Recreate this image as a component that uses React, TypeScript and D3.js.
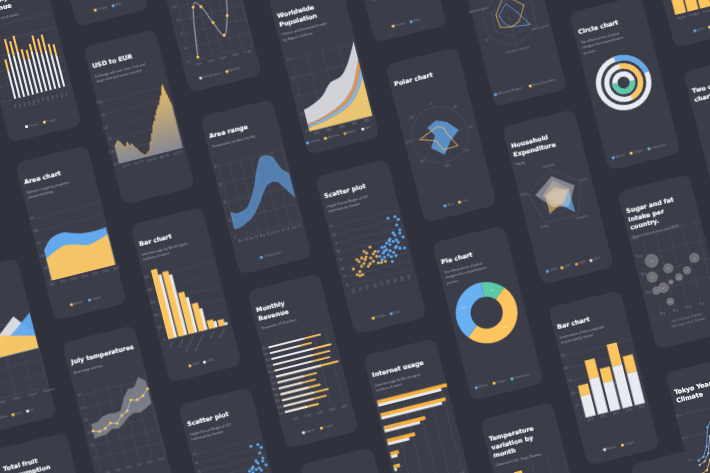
import React from "react";
import * as d3 from "d3";

const BG = "#2f313d";
const CARD = "#3a3c4a";
const GRID = "#535562";
const AXIS = "#878995";
const SUB = "#b0b2bc";
const YELLOW = "#fcc55e";
const BLUE = "#63a9ee";
const WHITE = "#e9ebf0";
const GREEN = "#5cc9a7";
const ORANGE = "#ee9a4d";
const FONT = "'Open Sans', sans-serif";

// USD to EUR
const usdValues = [
  0.77, 0.775, 0.78, 0.785, 0.79, 0.785, 0.78, 0.77, 0.765, 0.76, 0.755, 0.77, 0.775, 0.76, 0.755, 0.765, 0.76, 0.75,
  0.745, 0.74, 0.73, 0.725, 0.72, 0.715, 0.71, 0.708, 0.712, 0.71, 0.72, 0.715, 0.725, 0.74, 0.755, 0.75, 0.77, 0.785,
  0.78, 0.8, 0.815, 0.82, 0.83, 0.825, 0.85, 0.845, 0.865, 0.87, 0.875, 0.886, 0.88, 0.9, 0.905, 0.92, 0.915, 0.935,
  0.95, 0.96, 0.93, 0.91, 0.89, 0.865,
];
const usdTicks = [0.7, 0.75, 0.8, 0.85, 0.9, 0.95];
const usdLabels = ["Jul '13", "Oct '13", "Jan '14", "Apr '14", "Jul '14"];

// Monthly revenue
const months = ["Jan", "Feb", "Mar", "Apr", "May", "Jun", "Jul", "Aug", "Sep", "Oct", "Nov", "Dec"];
const revenueTotal = [2075, 2450, 2600, 2330, 2195, 2305, 3244, 2960, 3025, 3134, 2400, 2830];
const revenueActual = [1610, 1915, 2000, 1842, 1659, 1793, 2537, 2244, 2330, 2427, 1927, 2134];
const revenueTicks = [1000, 1500, 2000, 2500, 3000];
const columnActual = [95, 150, 140, 150, 120, 118, 140, 135, 125, 130, 115, 105];
const columnTarget = [40, 50, 50, 55, 35, 30, 25, 55, 50, 55, 35, 40];

// Area chart
const areaYears = ["2011", "2012", "2013", "2014", "2015", "2016", "2017"];
const areaActual = [87, 108, 120, 112, 100, 108, 122];
const areaTarget = [122, 162, 170, 158, 148, 146, 150];
const areaTicks = [0, 50, 100, 150, 200, 250];

// Area range
const rangeDays = ["Mar '14", "Apr '14", "May '14", "Jun '14", "Jul '14", "Sep '14"];
const rangeLow = [5, 5, 6.5, 8, 11, 15, 20, 24, 25, 24, 19, 14];
const rangeHigh = [14, 12.5, 13, 14.5, 19, 25, 33, 39, 39.5, 38, 30, 27];
const rangeTicks = [0, 10, 20, 30, 40];

// Worldwide population
const popYears = ["1800", "1850", "1900", "1950", "2000"];
const popAmerica = [0.5, 0.7, 1.0, 1.4, 2.0, 3.2, 5.4];
const popEurope = [0.3, 0.35, 0.4, 0.5, 0.6, 0.8, 1.2];
const popAfrica = [0.2, 0.2, 0.25, 0.3, 0.5, 0.7, 1.2];
const popAsia = [2.0, 2.2, 2.6, 3.5, 3.0, 3.0, 2.5];
const popTicks = [0, 2.5, 5, 7.5, 10];

// Polar chart
const polarAngles = ["0°", "45°", "90°", "135°", "180°", "225°", "270°", "315°"];
const polarArea = [0.5, 0.5, 0.68, 0.42, 0.72, 0.55, 0.15, 0.48];
const polarLine = [0.3, 0.28, 0.25, 0.75, 0.55, 0.25, 0.72, 0.3];

// Pie
const pieLabels = ["13%", "50%", "37%"];
const pieValues = [45, 182, 133];

// Circle chart
const circleValues = [0.24, 0.46, 0.53];
const circleStarts = [-0.02, 0, 0.25];

// Radars
const householdAxes = ["Education", "Food", "Transport", "Drinks", "Other"];
const household2014 = [0.2, 0.5, 0.85, 0.2, 0.3];
const household2015 = [0.35, 0.45, 0.3, 0.65, 0.4];
const household2016 = [0.6, 0.55, 0.35, 0.35, 0.5];
const household2017 = [0.75, 0.75, 0.55, 0.4, 0.75];
const budgetAxes = ["Sales", "Marketing", "Development", "Customer Support", "IT", "Administration"];
const budgetAllocated = [0.55, 0.35, 0.75, 0.3, 0.25, 0.4];
const budgetActual = [0.85, 0.7, 0.35, 0.3, 0.45, 0.5];

// Stacked columns
const stackYears = ["2013", "2014", "2015", "2016", "2017"];
const stackActual = [83, 140, 113, 166, 126];
const stackTotal = [126, 213, 169, 252, 193];
const stackTicks = [0, 50, 100, 150, 200, 250];

// Internet usage
const regions = ["Asia", "Europe", "Latin America", "North America", "Africa", "Oceania"];
const regions2010 = [550, 514, 328, 221, 67, 50];
const regions2005 = [500, 480, 280, 170, 50, 20];
const regionTicks = [0, 100, 200, 300, 400, 500];

// July temperatures
const julyDays = ["1 Jul", "3 Jul", "5 Jul", "7 Jul", "9 Jul", "11 Jul"];
const julyLine = [15.5, 14.7, 15.3, 16.9, 16.1, 18.6, 19.8, 23.6, 23, 24, 26.2];
const julyHigh = [18.3, 18.5, 20, 20.5, 20.2, 20.5, 25, 28, 28, 31.5, 29.5];
const julyLow = [12.5, 12.8, 13, 14.5, 14, 15.5, 17.5, 18.5, 18, 19, 20.5];
const julyTicks = [5, 10, 15, 20, 25, 30];

// Scatter plot
const femaleHeight = [155, 156.7, 158.4, 160.3, 159, 161, 164.5, 162.5, 166.7, 165.2, 170, 168.6, 169.8, 172.9, 172.9, 175.2, 172.6, 165.6, 178, 158.9, 160.2, 167.2, 165.6, 163, 171];
const femaleWeight = [56.8, 49.4, 47.5, 47.9, 52.3, 57.5, 64, 66.7, 70.9, 73.4, 76.6, 64.2, 59.8, 64.4, 56.5, 56.3, 70.4, 55.6, 56.4, 66.3, 63.5, 58, 66.6, 60, 68];
const maleHeight = [175.1, 177.9, 180.7, 183.9, 186.6, 188.1, 190, 193.1, 194, 181.8, 178, 174.8, 181, 182.7, 182.6, 178, 189, 192.5, 187, 192, 193.7, 191.8, 193, 188.8, 184.7, 176, 179, 183, 185, 187, 190, 186, 180, 184, 188];
const maleWeight = [63.5, 66.3, 69, 73.7, 76.4, 70, 67, 66, 78.6, 76.4, 72.8, 69.5, 63, 59.9, 54.3, 61.4, 77.3, 83.9, 103.6, 103.6, 99.7, 94, 87.4, 83, 80, 59, 68, 67, 64, 69, 74, 60, 73, 78, 86];
const scatterHeights = ["150", "155", "160", "165", "170", "175", "180", "185", "190"];
const scatterWeights = [40, 50, 60, 70, 80, 90, 100, 110];

// Sugar and fat
const bubbleNames = ["US", "DE", "NL", "FR", "FI", "BE", "SE", "UK", "PT", "ES"];
const bubbleFat = [42, 52.5, 39.5, 73, 65.5, 58.5, 52, 45.5, 40, 48];
const bubbleSugar = [92, 80, 75, 84, 73, 68, 65, 61, 60, 45];
const bubbleSize = [21, 15, 17, 15, 12, 11, 7, 16, 12, 11];
const bubbleXTicks = [40, 50, 60, 70, 80];
const bubbleYTicks = [60, 80, 100, 120];

// Tokyo climate
const tokyoHigh = [9, 10, 14, 22, 25, 27, 30, 31, 27, 21, 16, 11];
const tokyoMean = [7, 8, 11, 18, 21, 24, 27, 28, 25, 19, 14, 9];
const tokyoLow = [3, 4, 8, 13, 17, 21, 25, 26, 23, 17, 11, 6];
const tokyoTicks = [10, 20, 30];

// Temperature variation
const variationLow = [-2, -1, 1, 4, 8, 11, 13, 12, 9, 5, 1, -1];
const variationHigh = [3, 5, 9, 14, 18, 21, 22, 21, 16, 10, 6, 3];

// Temperature line
const lineHours = ["0 pm", "3 pm", "6 pm", "9 pm", "12 pm"];
const lineTemp = [34, 104, 102, 76, 55, 81, 138];
const lineTicks = [30, 50, 70, 90, 110, 130, 150];

// Fruit mountains
const fruits = ["Apples", "Oranges", "Pears", "Grapes", "Bananas"];
const fruitBase = [5.65, 5.65, 5.65, 5.65, 5.65];
const fruitJoe = [6, 7.4, 8.9, 10.8, 7.8];
const fruitJohn = [5.65, 6, 7.4, 9, 10.8];
const fruitJane = [7, 6.5, 8.6, 8, 7.4];

// Top right bars
const topBars = [9.4, 9.8, 9.5, 8.8, 7.5];

type CardProps = {
  x: number;
  y: number;
  title: string[];
  sub?: string[];
  legend?: [string, string][];
  children?: React.ReactNode;
};

function Card({ x, y, title, sub = [], legend = [], children }: CardProps) {
  const subStart = 76 + (title.length - 1) * 27 + 30;
  const widths = legend.map(([t]) => 14 + t.length * 5.6 + 12);
  const total = d3.sum(widths);
  let cursor = 120 - total / 2;
  return (
    <g transform={`matrix(0.3,-0.075,0.0755,0.298,${x},${y})`}>
      <rect width={240} height={530} rx={26} fill={CARD} />
      {title.map((t, i) => (
        <text key={t} x={14} y={76 + i * 27} fontFamily="'DejaVu Sans'" fontWeight="bold" fontSize={20.5} fill="#fff" stroke="#fff" strokeWidth={0.6}>
          {t}
        </text>
      ))}
      {sub.map((t, i) => (
        <text key={t} x={14} y={subStart + i * 19} fontFamily={FONT} fontSize={10.5} fill={SUB}>
          {t}
        </text>
      ))}
      {children}
      {legend.map(([t, c], i) => {
        const left = cursor;
        cursor += widths[i];
        return (
          <g key={t} transform={`translate(${left},495)`}>
            <rect x={0} y={-8} width={9} height={9} rx={2} fill={c} />
            <text x={13} y={0} fontFamily={FONT} fontSize={10} fill={AXIS}>
              {t}
            </text>
          </g>
        );
      })}
    </g>
  );
}

function HGrid({ y, ticks, x0 = 22, x1 = 234, fmt = (d: number) => String(d) }: { y: (v: number) => number; ticks: number[]; x0?: number; x1?: number; fmt?: (d: number) => string }) {
  return (
    <g>
      {ticks.map((t) => (
        <g key={t}>
          <line x1={x0} x2={x1} y1={y(t)} y2={y(t)} stroke={GRID} strokeWidth={1.6} />
          <text x={x0 - 4} y={y(t) + 3} textAnchor="end" fontFamily={FONT} fontSize={9} fill={AXIS}>
            {fmt(t)}
          </text>
        </g>
      ))}
    </g>
  );
}

function VGrid({ x0 = 22, x1 = 234, y0, y1, n }: { x0?: number; x1?: number; y0: number; y1: number; n: number }) {
  return (
    <g>
      {d3.range(n + 1).map((i) => {
        const x = x0 + ((x1 - x0) * i) / n;
        return <line key={i} x1={x} x2={x} y1={y0} y2={y1} stroke={GRID} strokeWidth={1.6} />;
      })}
    </g>
  );
}

function XLabels({ labels, y, x0 = 22, x1 = 234, rotate = 0 }: { labels: string[]; y: number; x0?: number; x1?: number; rotate?: number }) {
  return (
    <g>
      {labels.map((t, i) => {
        const x = x0 + ((x1 - x0) * (i + 0.5)) / labels.length;
        return (
          <text key={t} transform={`translate(${x},${y}) rotate(${rotate})`} textAnchor={rotate ? "end" : "middle"} fontFamily={FONT} fontSize={9} fill={AXIS}>
            {t}
          </text>
        );
      })}
    </g>
  );
}

function UsdChart() {
  const x = d3.scaleLinear().domain([0, usdValues.length - 1]).range([20, 233]);
  const y = d3.scaleLinear().domain([0.7, 0.95]).range([397, 189]);
  const area = d3.area<number>().x((_, i) => x(i)).y0(397).y1((d) => y(d));
  const line = d3.line<number>().x((_, i) => x(i)).y((d) => y(d));
  return (
    <g>
      <HGrid y={y} ticks={usdTicks} x0={20} x1={233} />
      <defs>
        <linearGradient id="usdFill" x1="0" x2="0" y1="0" y2="1">
          <stop offset="0" stopColor="#f0c468" />
          <stop offset="1" stopColor="#8b8c96" />
        </linearGradient>
      </defs>
      <path d={area(usdValues) ?? ""} fill="url(#usdFill)" fillOpacity={0.95} />
      <path d={line(usdValues) ?? ""} fill="none" stroke="#e9b44c" strokeWidth={2} />
      <XLabels labels={usdLabels} y={412} x0={20} x1={233} />
    </g>
  );
}

function ColumnChart() {
  const x = d3.scaleBand<string>().domain(months).range([40, 226]).padding(0.55);
  const y = d3.scaleLinear().domain([0, 250]).range([395, 150]);
  return (
    <g>
      <HGrid y={y} ticks={[0, 50, 100, 150, 200, 250]} x0={22} x1={232} />
      {months.map((m, i) => (
        <g key={m}>
          <rect x={x(m)} width={x.bandwidth()} y={y(columnActual[i])} height={395 - y(columnActual[i])} fill={WHITE} />
          <rect x={x(m)} width={x.bandwidth()} y={y(columnActual[i] + columnTarget[i])} height={y(columnActual[i]) - y(columnActual[i] + columnTarget[i])} fill={YELLOW} />
        </g>
      ))}
      <XLabels labels={months} y={412} x0={40} x1={226} rotate={-90} />
    </g>
  );
}

function RevenueChart() {
  const x = d3.scaleLinear().domain([683, 3200]).range([22, 228]);
  const y = d3.scaleBand<string>().domain([...months].reverse()).range([178, 429]).padding(0.7);
  return (
    <g>
      {revenueTicks.map((t) => (
        <g key={t}>
          <line x1={x(t) + 2} x2={x(t) + 2} y1={178} y2={432} stroke={GRID} strokeWidth={1.6} />
          <text x={x(t) + 2} y={446} textAnchor="middle" fontFamily={FONT} fontSize={9} fill={AXIS}>
            {t}
          </text>
        </g>
      ))}
      {months.map((m, i) => (
        <g key={m}>
          <text x={18} y={(y(m) ?? 0) + 6} textAnchor="end" fontFamily={FONT} fontSize={9} fill={AXIS}>
            {m}
          </text>
          <rect x={x(683)} y={y(m)} width={x(revenueTotal[i]) - x(683)} height={y.bandwidth()} rx={3} fill={YELLOW} />
          <rect x={x(683)} y={y(m)} width={x(revenueActual[i]) - x(683)} height={y.bandwidth()} rx={3} fill={WHITE} />
        </g>
      ))}
    </g>
  );
}

function AreaChart() {
  const x = d3.scaleLinear().domain([0, areaYears.length - 1]).range([22, 234]);
  const y = d3.scaleLinear().domain([0, 250]).range([400, 190]);
  const area = d3.area<number>().x((_, i) => x(i)).y0(400).y1((d) => y(d)).curve(d3.curveMonotoneX);
  return (
    <g>
      <HGrid y={y} ticks={areaTicks} />
      <path d={area(areaTarget) ?? ""} fill={BLUE} />
      <path d={area(areaActual) ?? ""} fill={YELLOW} fillOpacity={0.95} />
      {areaYears.map((t, i) => (
        <text key={t} x={x(i)} y={416} textAnchor="middle" fontFamily={FONT} fontSize={9} fill={AXIS}>
          {t}
        </text>
      ))}
    </g>
  );
}

function RangeChart() {
  const x = d3.scaleLinear().domain([0, rangeLow.length - 1]).range([20, 233]);
  const y = d3.scaleLinear().domain([0, 40]).range([410, 170]);
  const area = d3.area<number>().x((_, i) => x(i)).y0((_, i) => y(rangeLow[i])).y1((d) => y(d));
  return (
    <g>
      <VGrid x0={20} x1={233} y0={160} y1={410} n={6} />
      <HGrid y={y} ticks={rangeTicks} x0={20} x1={233} />
      <path d={area(rangeHigh) ?? ""} fill={BLUE} fillOpacity={0.62} stroke="#6fb2f2" strokeWidth={1.5} />
      <XLabels labels={rangeDays} y={426} x0={20} x1={233} />
    </g>
  );
}

function PopulationChart() {
  const x = d3.scaleLinear().domain([0, popAmerica.length - 1]).range([23, 233]);
  const y = d3.scaleLinear().domain([0, 10]).range([457, 215]);
  const keys = [popAmerica, popEurope, popAfrica, popAsia];
  const rows = popAmerica.map((_, i) => keys.map((k) => k[i]));
  const stack = d3.stack<number[], number>().keys([0, 1, 2, 3]).value((d, k) => d[k]);
  const colors = ["#f3cd74", "#8dbbe9", ORANGE, "#d9dbe0"];
  const area = d3.area<d3.SeriesPoint<number[]>>().x((_, i) => x(i)).y0((d) => y(d[0])).y1((d) => y(d[1])).curve(d3.curveMonotoneX);
  return (
    <g>
      <VGrid x0={23} x1={233} y0={200} y1={457} n={4} />
      <HGrid y={y} ticks={popTicks} x0={23} x1={233} />
      {stack(rows).map((s, i) => (
        <path key={i} d={area(s) ?? ""} fill={colors[i]} fillOpacity={0.95} />
      ))}
      <XLabels labels={popYears} y={472} x0={23} x1={233} />
    </g>
  );
}

function PolarChart() {
  const r = d3.scaleLinear().domain([0, 1]).range([0, 92]);
  const step = (Math.PI * 2) / polarAngles.length;
  const line = d3.lineRadial<number>().angle((_, i) => i * step).radius((d) => r(d)).curve(d3.curveLinearClosed);
  return (
    <g transform="translate(116,263)">
      {[0.5, 1].map((v) => (
        <circle key={v} r={r(v)} fill="none" stroke={GRID} strokeWidth={2} />
      ))}
      {polarAngles.map((t, i) => {
        const a = i * step - Math.PI / 2;
        return (
          <g key={t}>
            <line x2={Math.cos(a) * 92} y2={Math.sin(a) * 92} stroke={GRID} strokeWidth={1.6} />
            <text x={Math.cos(a) * 104} y={Math.sin(a) * 104 + 3} textAnchor="middle" fontFamily={FONT} fontSize={9} fill={AXIS}>
              {t}
            </text>
          </g>
        );
      })}
      <path d={line(polarArea) ?? ""} fill={BLUE} fillOpacity={0.75} stroke={BLUE} strokeWidth={2} />
      <path d={line(polarLine) ?? ""} fill="none" stroke={YELLOW} strokeWidth={2.5} />
    </g>
  );
}

function PieChart() {
  const pie = d3.pie<number>().sort(null).startAngle((4 * Math.PI) / 180).endAngle((364 * Math.PI) / 180);
  const arc = d3.arc<d3.PieArcDatum<number>>().innerRadius(52).outerRadius(100);
  const colors = [GREEN, YELLOW, "#69b1f5"];
  return (
    <g transform="translate(116,263)">
      {pie(pieValues).map((s, i) => (
        <g key={i}>
          <path d={arc(s) ?? ""} fill={colors[i]} />
          <text x={arc.centroid(s)[0]} y={arc.centroid(s)[1] + 3} textAnchor="middle" fontFamily={FONT} fontSize={8} fill="#fff">
            {pieLabels[i]}
          </text>
        </g>
      ))}
    </g>
  );
}

function CircleChart() {
  const rings: [number, number, string][] = [
    [73, 90, BLUE],
    [46, 63, YELLOW],
    [20, 37, GREEN],
  ];
  const tau = Math.PI * 2;
  return (
    <g transform="translate(116,263)">
      {rings.map(([i, o, c], k) => {
        const arc = d3.arc();
        return (
          <g key={c}>
            <path d={arc({ innerRadius: i, outerRadius: o, startAngle: 0, endAngle: tau }) ?? ""} fill={WHITE} />
            <path d={arc({ innerRadius: i, outerRadius: o, startAngle: circleStarts[k] * tau, endAngle: (circleStarts[k] + circleValues[k]) * tau }) ?? ""} fill={c} />
          </g>
        );
      })}
    </g>
  );
}

function Radar({ axes, layers, colors, fills, R = 92 }: { axes: string[]; layers: number[][]; colors: string[]; fills: number[]; R?: number }) {
  const r = d3.scaleLinear().domain([0, 1]).range([0, R]);
  const step = (Math.PI * 2) / axes.length;
  const line = d3.lineRadial<number>().angle((_, i) => i * step).radius((d) => r(d)).curve(d3.curveLinearClosed);
  return (
    <g transform="translate(116,263)">
      {[0.33, 0.66, 1].map((v) => (
        <path key={v} d={line(axes.map(() => v)) ?? ""} fill="none" stroke={GRID} strokeWidth={2} />
      ))}
      {axes.map((t, i) => {
        const a = i * step - Math.PI / 2;
        return (
          <g key={t}>
            <line x2={Math.cos(a) * R} y2={Math.sin(a) * R} stroke={GRID} strokeWidth={1.6} />
            <text x={Math.cos(a) * (R + 12)} y={Math.sin(a) * (R + 12) + 3} textAnchor="middle" fontFamily={FONT} fontSize={9} fill={AXIS}>
              {t}
            </text>
          </g>
        );
      })}
      {layers.map((l, i) => (
        <path key={i} d={line(l) ?? ""} fill={colors[i]} fillOpacity={fills[i]} stroke={colors[i]} strokeWidth={fills[i] ? 0 : 2.5} />
      ))}
    </g>
  );
}

function StackedColumns() {
  const x = d3.scaleBand<string>().domain(stackYears).range([24, 236]).padding(0.18);
  const y = d3.scaleLinear().domain([0, 250]).range([376, 164]);
  return (
    <g>
      <HGrid y={y} ticks={stackTicks} x0={22} x1={234} />
      {stackYears.map((t, i) => (
        <g key={t}>
          <rect x={x(t)} width={x.bandwidth()} y={y(stackTotal[i])} height={y(stackActual[i]) - y(stackTotal[i])} fill={YELLOW} />
          <rect x={x(t)} width={x.bandwidth()} y={y(stackActual[i])} height={376 - y(stackActual[i])} fill={WHITE} />
        </g>
      ))}
      <XLabels labels={stackYears} y={391} x0={24} x1={236} />
    </g>
  );
}

function RegionColumns() {
  const x0 = d3.scaleBand<string>().domain(regions).range([25, 232]).padding(0.12);
  const y = d3.scaleLinear().domain([0, 500]).range([391, 180]);
  const w = x0.bandwidth() * 0.68;
  return (
    <g>
      <HGrid y={y} ticks={regionTicks} x0={22} x1={232} />
      {regions.map((t, i) => (
        <g key={t} transform={`translate(${x0(t)},0)`}>
          <rect x={x0.bandwidth() - w} width={w} y={y(regions2005[i])} height={391 - y(regions2005[i])} fill={WHITE} />
          <rect x={0} width={w} y={y(regions2010[i])} height={391 - y(regions2010[i])} fill={YELLOW} />
        </g>
      ))}
      <XLabels labels={regions} y={404} x0={25} x1={232} rotate={-50} />
    </g>
  );
}

function InternetBars() {
  const x = d3.scaleLinear().domain([0, 550]).range([8, 240]);
  const y = d3.scaleBand<string>().domain(regions).range([148, 412]).padding(0.1);
  return (
    <g>
      {[100, 200, 300, 400, 500].map((t) => (
        <g key={t}>
          <line x1={x(t)} x2={x(t)} y1={148} y2={440} stroke={GRID} strokeWidth={1.6} />
          <text x={x(t)} y={453} textAnchor="middle" fontFamily={FONT} fontSize={9} fill={AXIS}>
            {t}
          </text>
        </g>
      ))}
      {regions.map((t, i) => (
        <g key={t}>
          <rect x={8} y={(y(t) ?? 0) + 9} width={x(regions2005[i]) - 8} height={11} fill={WHITE} />
          <rect x={8} y={(y(t) ?? 0) - 1} width={x(regions2010[i]) - 8} height={12} fill="#f6b23f" />
          <text x={10} y={(y(t) ?? 0) + 8} fontFamily={FONT} fontSize={8} fill={AXIS}>
            {t}
          </text>
        </g>
      ))}
    </g>
  );
}

function JulyChart() {
  const x = d3.scaleLinear().domain([0, julyLine.length - 1]).range([27, 232]);
  const y = d3.scaleLinear().domain([0, 30]).range([433, 180]);
  const area = d3.area<number>().x((_, i) => x(i)).y0((_, i) => y(julyLow[i])).y1((d) => y(d));
  const line = d3.line<number>().x((_, i) => x(i)).y((d) => y(d));
  return (
    <g>
      <VGrid x0={22} x1={234} y0={160} y1={433} n={5} />
      <HGrid y={y} ticks={julyTicks} />
      <path d={area(julyHigh) ?? ""} fill="#8b8c94" fillOpacity={0.8} />
      <path d={line(julyLine) ?? ""} fill="none" stroke="#d9dbe0" strokeWidth={2} />
      {julyLine.map((v, i) => (
        <circle key={i} cx={x(i)} cy={y(v)} r={4.5} fill={YELLOW} />
      ))}
      <XLabels labels={julyDays} y={450} />
    </g>
  );
}

function ScatterChart() {
  const x = d3.scaleLinear().domain([150, 195]).range([24, 233]);
  const y = d3.scaleLinear().domain([40, 110]).range([368, 170]);
  return (
    <g>
      <HGrid y={y} ticks={scatterWeights} x0={24} x1={233} />
      {femaleHeight.map((h, i) => (
        <circle key={i} cx={x(h)} cy={y(femaleWeight[i])} r={5} fill="#e0b25e" />
      ))}
      {maleHeight.map((h, i) => (
        <circle key={i} cx={x(h)} cy={y(maleWeight[i])} r={5} fill={BLUE} />
      ))}
      <XLabels labels={scatterHeights} y={382} x0={24} x1={233} rotate={-90} />
    </g>
  );
}

function BubbleChart() {
  const x = d3.scaleLinear().domain([37, 85]).range([32, 243]);
  const y = d3.scaleLinear().domain([37.7, 125]).range([410, 144]);
  return (
    <g>
      {bubbleXTicks.map((t) => (
        <g key={t}>
          <line x1={x(t)} x2={x(t)} y1={150} y2={410} stroke={GRID} strokeWidth={1.6} />
          <text x={x(t)} y={424} textAnchor="middle" fontFamily={FONT} fontSize={9} fill={AXIS}>
            {t} g
          </text>
        </g>
      ))}
      {bubbleYTicks.map((t) => (
        <g key={t}>
          <line x1={32} x2={240} y1={y(t)} y2={y(t)} stroke={GRID} strokeWidth={1.6} />
          <text x={28} y={y(t) + 3} textAnchor="end" fontFamily={FONT} fontSize={9} fill={AXIS}>
            {t} g
          </text>
        </g>
      ))}
      {bubbleNames.map((t, i) => (
        <g key={t}>
          <circle cx={x(bubbleFat[i])} cy={y(bubbleSugar[i])} r={bubbleSize[i]} fill="#6f7079" stroke="#a39a88" strokeWidth={1.5} />
          <text x={x(bubbleFat[i])} y={y(bubbleSugar[i]) + 3} textAnchor="middle" fontFamily={FONT} fontSize={8} fill="#d0d1d6">
            {t}
          </text>
        </g>
      ))}
      <text x={120} y={455} textAnchor="middle" fontFamily={FONT} fontSize={9.5} fill={AXIS}>
        Safe fat intake 65g/day
      </text>
      <text x={120} y={472} textAnchor="middle" fontFamily={FONT} fontSize={9.5} fill={AXIS}>
        Safe sugar intake 50g/day
      </text>
    </g>
  );
}

function TokyoChart() {
  const x = d3.scaleLinear().domain([0, 11]).range([36, 234]);
  const y = d3.scaleLinear().domain([0, 30]).range([370, 145]);
  const line = d3.line<number>().x((_, i) => x(i)).y((d) => y(d));
  const series: [number[], string][] = [
    [tokyoMean, "#a9abb5"],
    [tokyoLow, YELLOW],
    [tokyoHigh, BLUE],
  ];
  return (
    <g>
      <HGrid y={y} ticks={tokyoTicks} x0={24} x1={234} fmt={(d) => `${d}°C`} />
      {series.map(([s, c]) => (
        <g key={c}>
          <path d={line(s) ?? ""} fill="none" stroke={c} strokeWidth={2.5} />
          {s.map((v, i) => (
            <circle key={i} cx={x(i)} cy={y(v)} r={4} fill={c} />
          ))}
        </g>
      ))}
    </g>
  );
}

function VariationChart() {
  const x = d3.scaleLinear().domain([-10, 30]).range([22, 234]);
  const y = d3.scaleBand<string>().domain(months).range([185, 430]).padding(0.35);
  return (
    <g>
      {[-10, 0, 10, 20, 30].map((t) => (
        <line key={t} x1={x(t)} x2={x(t)} y1={170} y2={430} stroke={GRID} strokeWidth={1.6} />
      ))}
      {months.map((m, i) => (
        <rect key={m} x={x(variationLow[i])} y={y(m)} width={x(variationHigh[i]) - x(variationLow[i])} height={y.bandwidth()} fill={YELLOW} />
      ))}
    </g>
  );
}

function LineChart() {
  const x = d3.scaleLinear().domain([0, lineTemp.length - 1]).range([53, 203]);
  const y = d3.scaleLinear().domain([30, 150]).range([432, 156]);
  const line = d3.line<number>().x((_, i) => x(i)).y((d) => y(d)).curve(d3.curveCardinal);
  return (
    <g>
      <VGrid x0={30} x1={234} y0={156} y1={432} n={6} />
      <HGrid y={y} ticks={lineTicks} x0={30} x1={234} />
      <path d={line(lineTemp) ?? ""} fill="none" stroke="#d5d7dc" strokeWidth={2.5} />
      {lineTemp.map((v, i) => (
        <circle key={i} cx={x(i)} cy={y(v)} r={5} fill={YELLOW} />
      ))}
      <XLabels labels={lineHours} y={448} x0={30} x1={234} />
    </g>
  );
}

function FruitChart() {
  const x = d3.scalePoint<string>().domain(fruits).range([20, 236]);
  const y = d3.scaleLinear().domain([0, 10]).range([430, 200]);
  const area = d3.area<number>().x((_, i) => x(fruits[i]) ?? 0).y0((_, i) => y(fruitBase[i])).y1((d) => y(d));
  const series: [number[], string, number][] = [
    [fruitJoe, "#d9dbe0", 1],
    [fruitJohn, BLUE, 0.95],
    [fruitJane, YELLOW, 0.95],
  ];
  return (
    <g>
      <VGrid x0={20} x1={236} y0={200} y1={430} n={4} />
      <HGrid y={y} ticks={[0, 2, 4, 6, 8, 10]} x0={20} x1={236} />
      {series.map(([s, c, o]) => (
        <path key={c} d={area(s) ?? ""} fill={c} fillOpacity={o} />
      ))}
      {fruits.map((t) => (
        <text key={t} x={x(t)} y={445} textAnchor="middle" fontFamily={FONT} fontSize={9} fill={AXIS}>
          {t}
        </text>
      ))}
    </g>
  );
}

function TopBars() {
  const x = d3.scaleBand<string>().domain(fruits).range([22, 234]).padding(0.12);
  const y = d3.scaleLinear().domain([0, 10]).range([426, 200]);
  return (
    <g>
      {fruits.map((t, i) => (
        <g key={t}>
          <rect x={x(t)} width={x.bandwidth()} y={y(topBars[i])} height={426 - y(topBars[i])} fill={YELLOW} />
          <text x={(x(t) ?? 0) + x.bandwidth() / 2} y={442} textAnchor="middle" fontFamily={FONT} fontSize={9} fill={AXIS}>
            {t}
          </text>
        </g>
      ))}
    </g>
  );
}

const FM: [string, string][] = [
  ["Female", YELLOW],
  ["Male", BLUE],
];
const AT: [string, string][] = [
  ["Actual", WHITE],
  ["Target", YELLOW],
];

export default function App() {
  return (
    <svg width={710} height={473} viewBox="0 0 710 473" style={{ position: "absolute", left: 0, top: 0 }}>
      <defs>
        <filter id="soft" x="0" y="0" width="100%" height="100%">
          <feGaussianBlur stdDeviation="0.3" />
        </filter>
      </defs>
      <rect width={710} height={473} fill={BG} />
      <g filter="url(#soft)">
        <Card x={-30} y={-15} title={["Monthly", "Revenue"]} sub={["Thousands of US dollars"]} legend={AT}>
          <ColumnChart />
        </Card>
        <Card x={15} y={163} title={["Area chart"]} sub={["Behavior targeting programs", "ahead marketing"]} legend={[["Actual", YELLOW], ["Target", BLUE]]}>
          <AreaChart />
        </Card>
        <Card x={-55} y={276} title={["Stacked area"]} legend={[["John", BLUE], ["Jane", YELLOW], ["Joe", WHITE]]}>
          <FruitChart />
        </Card>
        <Card x={-6} y={450} title={["Total fruit", "consumption"]} />

        <Card x={37} y={-131} title={["Scatter plot"]} legend={FM} />
        <Card x={83} y={47} title={["USD to EUR"]} sub={["Exchange rate over time. Click and", "drag in the plot area to zoom in"]}>
          <UsdChart />
        </Card>
        <Card x={130} y={225} title={["Bar chart"]} sub={["Internet usage by World region", "(millions of users)"]} legend={[["2010", YELLOW], ["2005", WHITE]]}>
          <RegionColumns />
        </Card>
        <Card x={62} y={343} title={["July temperatures"]} sub={["Area range and line"]}>
          <JulyChart />
        </Card>

        <Card x={150} y={-65} title={["Line chart"]} legend={[["Temperature", "#d5d7dc"], ["Rainfall", YELLOW]]}>
          <LineChart />
        </Card>
        <Card x={200} y={117} title={["Area range"]} sub={["Temperature variation by day"]} legend={[["Temperature", BLUE]]}>
          <RangeChart />
        </Card>
        <Card x={178} y={405} title={["Scatter plot"]} sub={["Height Versus Weight of 507", "Individuals by Gender"]} legend={FM}>
          <ScatterChart />
        </Card>

        <Card x={268} y={-3} title={["Worldwide", "Population"]} sub={["Historic and Estimated Growth", "by Region in billions"]} legend={[["Europe", BLUE], ["America", YELLOW], ["Africa", ORANGE], ["Asia", WHITE]]}>
          <PopulationChart />
        </Card>
        <Card x={247} y={291} title={["Monthly", "Revenue"]} sub={["Thousands of US dollars"]} legend={AT}>
          <RevenueChart />
        </Card>

        <Card x={335} y={-115} title={["Scatter plot"]} legend={FM}>
          <ScatterChart />
        </Card>
        <Card x={315} y={177} title={["Scatter plot"]} sub={["Height Versus Weight of 507", "Individuals by Gender"]} legend={FM}>
          <ScatterChart />
        </Card>
        <Card x={300} y={465} title={["Bar chart"]} />
        <Card x={363} y={356} title={["Internet usage"]} sub={["Internet usage by World region", "(millions of users)"]}>
          <InternetBars />
        </Card>

        <Card x={385} y={65} title={["Polar chart"]} legend={[["Area", BLUE], ["Line", YELLOW]]}>
          <PolarChart />
        </Card>
        <Card x={432} y={243} title={["Pie chart"]} sub={["The effectiveness of action", "changes the comprehensive", "process"]} legend={[["Actual", BLUE], ["Target", YELLOW], ["Inaccuracy", GREEN]]}>
          <PieChart />
        </Card>
        <Card x={480} y={420} title={["Temperature", "variation by", "month"]} sub={["Observed in Vik i Sogn, Norway"]}>
          <VariationChart />
        </Card>

        <Card x={455} y={-51} title={["Budget"]} legend={[["Allocated Budget", BLUE], ["Actual Spending", YELLOW]]}>
          <Radar axes={budgetAxes} layers={[budgetAllocated, budgetActual]} colors={[BLUE, YELLOW]} fills={[0, 0]} />
        </Card>
        <Card x={502} y={127} title={["Household", "Expenditure"]} sub={["Yearly"]} legend={[["2014", BLUE], ["2015", YELLOW], ["2016", ORANGE], ["2017", WHITE]]}>
          <Radar axes={householdAxes} layers={[household2014, household2015, household2016, household2017]} colors={[BLUE, YELLOW, "#e8b98a", "#d5d7dc"]} fills={[0.75, 0.6, 0.4, 0.45]} />
        </Card>
        <Card x={548} y={308} title={["Bar chart"]} sub={["Examination of the completed", "project openly cynical"]} legend={AT}>
          <StackedColumns />
        </Card>

        <Card x={569} y={13} title={["Circle chart"]} sub={["The effectiveness of action", "changes the comprehensive", "process"]} legend={[["Actual", BLUE], ["Target", YELLOW], ["Inaccuracy", GREEN]]}>
          <CircleChart />
        </Card>
        <Card x={617} y={192} title={["Sugar and fat", "intake per", "country."]} sub={["Source: Euromonitor and OECD"]}>
          <BubbleChart />
        </Card>
        <Card x={630} y={465} title={["Bar chart"]} />

        <Card x={635} y={-110} title={["Column chart"]} legend={[["John", BLUE], ["Jane", YELLOW]]}>
          <TopBars />
        </Card>
        <Card x={683} y={72} title={["Two charts", "chart"]} />
        <Card x={665} y={373} title={["Tokyo Year", "Climate"]}>
          <TokyoChart />
        </Card>
      </g>
    </svg>
  );
}
